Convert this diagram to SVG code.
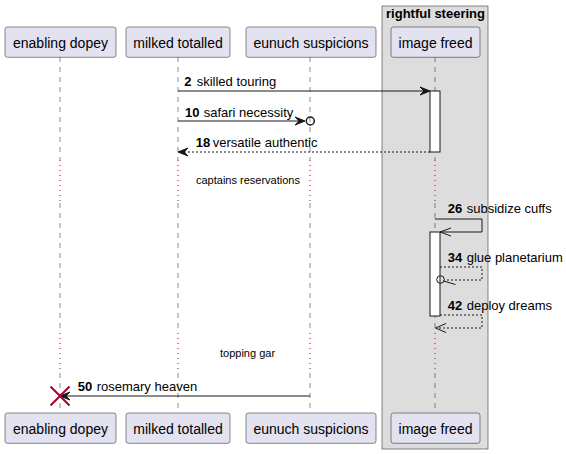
<svg xmlns="http://www.w3.org/2000/svg" width="566" height="454" viewBox="0 0 566 454">
<style>
text{font-family:"Liberation Sans",Arial,sans-serif;fill:#000}
.pt{font-size:14px;text-anchor:middle}
.ml{font-size:13px}
.b{font-weight:bold}
.dl{font-size:11px}
.pbox{fill:#E2E2F0;stroke:#181818;stroke-width:0.5}
.life{stroke:#181818;stroke-width:0.5;stroke-dasharray:5,5;fill:none}
.dot{stroke:#A80036;stroke-width:1;stroke-dasharray:1,4;fill:none}
.msg{stroke:#181818;stroke-width:1;fill:none}
.dash{stroke:#181818;stroke-width:1;stroke-dasharray:2,2;fill:none}
.head{fill:#181818;stroke:#181818;stroke-width:1}
.act{fill:#FFFFFF;stroke:#181818;stroke-width:1}
</style>
<g id="box-rightful-steering">
<rect x="382" y="6" width="106" height="443" fill="#DDDDDD" stroke="#181818" stroke-width="0.5"/>
<text x="435.5" y="18" class="ml b" text-anchor="middle">rightful steering</text>
</g>
<g id="lifelines">
<path class="life" d="M60,57V160M60,203V333M60,373V413M178,57V160M178,203V333M178,373V413M310,57V160M310,203V333M310,373V413M435,57V160M435,203V333M435,373V413"/>
<path class="dot" d="M60,160V203M60,333V373M178,160V203M178,333V373M310,160V203M310,333V373M435,160V203M435,333V373"/>
</g>
<g id="activations">
<rect class="act" x="430" y="91" width="10" height="61"/>
<rect class="act" x="430" y="232" width="10" height="84"/>
</g>
<g id="p-enabling-dopey">
<rect class="pbox" x="5" y="27" width="111" height="30.3" rx="2.5"/>
<text class="pt" x="60.5" y="47.5">enabling dopey</text>
<rect class="pbox" x="5" y="413" width="111" height="30.3" rx="2.5"/>
<text class="pt" x="60.5" y="434">enabling dopey</text>
</g>
<g id="p-milked-totalled">
<rect class="pbox" x="126" y="27" width="104" height="30.3" rx="2.5"/>
<text class="pt" x="178" y="47.5">milked totalled</text>
<rect class="pbox" x="126" y="413" width="104" height="30.3" rx="2.5"/>
<text class="pt" x="178" y="434">milked totalled</text>
</g>
<g id="p-eunuch-suspicions">
<rect class="pbox" x="246" y="27" width="130" height="30.3" rx="2.5"/>
<text class="pt" x="311" y="47.5">eunuch suspicions</text>
<rect class="pbox" x="246" y="413" width="130" height="30.3" rx="2.5"/>
<text class="pt" x="311" y="434">eunuch suspicions</text>
</g>
<g id="p-image-freed">
<rect class="pbox" x="391" y="27" width="89" height="30.3" rx="2.5"/>
<text class="pt" x="435.5" y="47.5">image freed</text>
<rect class="pbox" x="391" y="413" width="89" height="30.3" rx="2.5"/>
<text class="pt" x="435.5" y="434">image freed</text>
</g>
<g id="connectors">
<!-- 2 -->
<line class="msg" x1="178" y1="91" x2="428" y2="91"/>
<polygon class="head" points="430,91 420,87 424,91 420,95"/>
<text class="ml" x="184.3" y="86"><tspan class="b">2</tspan><tspan x="196.7">skilled touring</tspan></text>
<!-- 10 -->
<line class="msg" x1="178" y1="121" x2="304" y2="121"/>
<polygon class="head" points="305,121 295,117 299,121 295,125"/>
<circle cx="310.3" cy="121" r="4" fill="none" stroke="#181818" stroke-width="1.5"/>
<text class="ml" x="185" y="116.5"><tspan class="b">10</tspan><tspan x="203.7">safari necessity</tspan></text>
<!-- 18 -->
<line class="dash" x1="430" y1="152" x2="180" y2="152"/>
<polygon class="head" points="178,152 188,148 184,152 188,156"/>
<text class="ml" x="195.7" y="147"><tspan class="b">18</tspan><tspan x="212.7">versatile authentic</tspan></text>
<!-- delay -->
<text class="dl" x="196" y="184">captains reservations</text>
<!-- 26 -->
<polyline class="msg" points="435,219 482,219 482,232 440,232"/>
<polyline class="msg" points="451,228 440,232 451,236"/>
<text class="ml" x="447.7" y="213"><tspan class="b">26</tspan><tspan x="466.7">subsidize cuffs</tspan></text>
<!-- 34 -->
<polyline class="dash" points="440,267 482,267 482,280 444.5,280"/>
<circle cx="440.5" cy="279.5" r="3.8" fill="none" stroke="#181818" stroke-width="1"/>
<line class="msg" x1="443.5" y1="281" x2="455.5" y2="284.5"/>
<text class="ml" x="447.7" y="262"><tspan class="b">34</tspan><tspan x="466.7">glue planetarium</tspan></text>
<!-- 42 -->
<polyline class="dash" points="440,315 482,315 482,328 436,328"/>
<polyline class="msg" points="446,323.5 435.5,328 446,332.5"/>
<text class="ml" x="447.7" y="310"><tspan class="b">42</tspan><tspan x="466.7">deploy dreams</tspan></text>
<!-- delay 2 -->
<text class="dl" x="220" y="356.7">topping gar</text>
<!-- 50 -->
<line class="msg" x1="310" y1="396" x2="62" y2="396"/>
<polygon class="head" points="60,396 70,392 66,396 70,400"/>
<path d="M50.5,386.5L69.5,405.5M50.5,405.5L69.5,386.5" stroke="#A80036" stroke-width="2" fill="none"/>
<text class="ml" x="77.7" y="391"><tspan class="b">50</tspan><tspan x="96.7">rosemary heaven</tspan></text>
</g>
</svg>
